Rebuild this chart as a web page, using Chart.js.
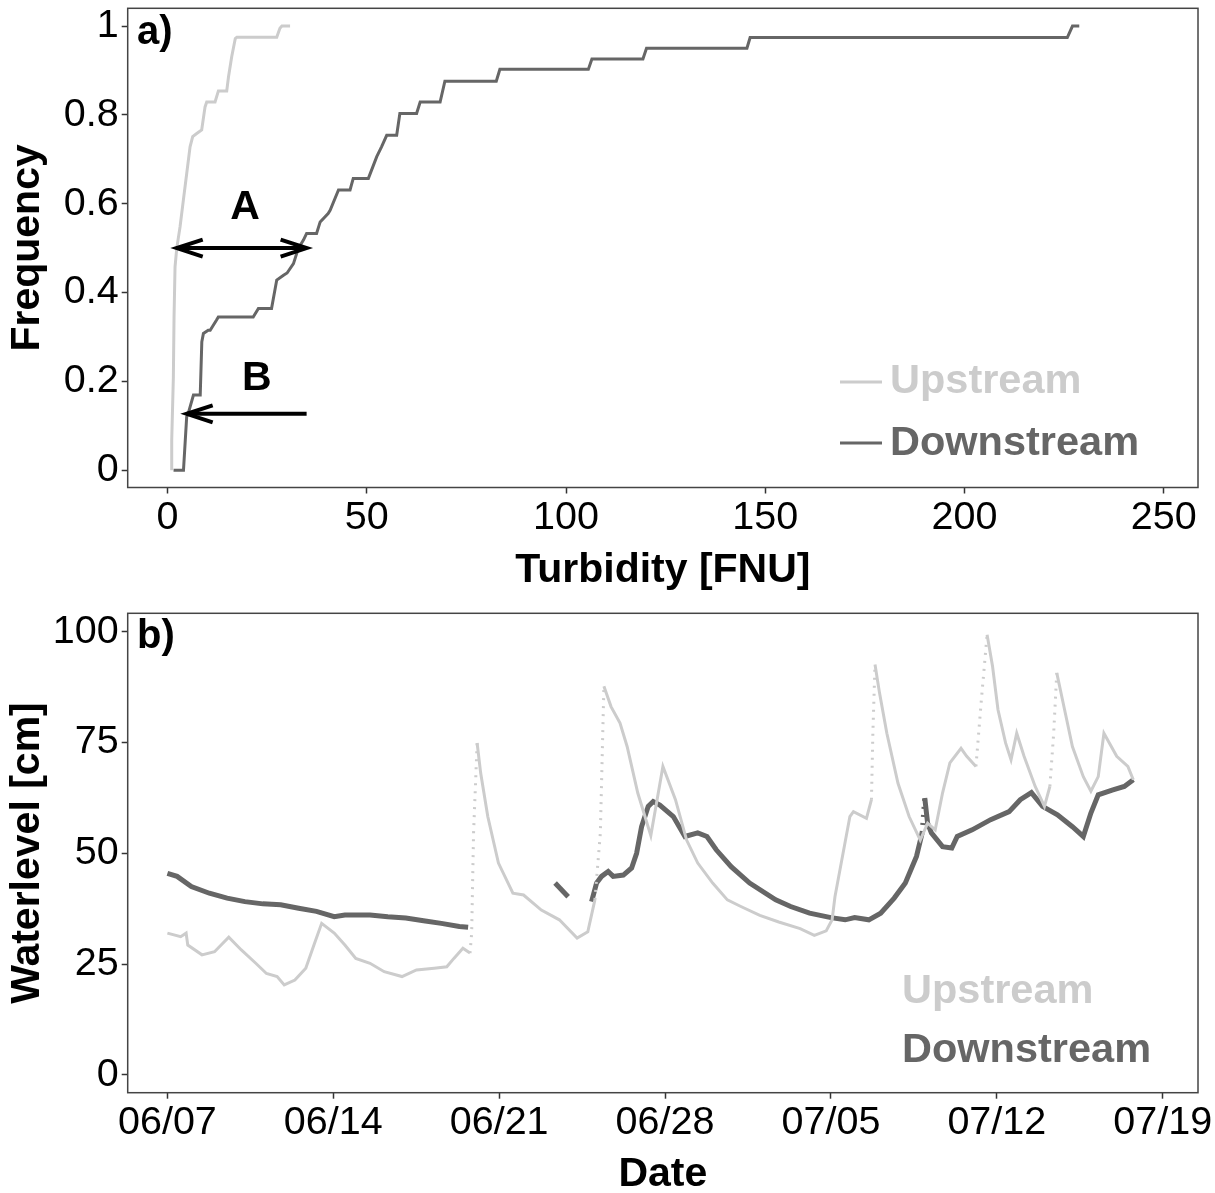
<!DOCTYPE html>
<html>
<head>
<meta charset="utf-8">
<script src="https://cdn.jsdelivr.net/npm/chart.js@4.4.0/dist/chart.umd.min.js"></script>
<style>
  html, body { margin: 0; padding: 0; background: #fff; }
  #wrap { position: relative; width: 1215px; height: 1193px; }
  #top { position: absolute; left: 0; top: 0; }
  #bottom { position: absolute; left: 0; top: 600px; }
</style>
</head>
<body>
<div id="wrap">
  <canvas id="top" width="1215" height="600"></canvas>
  <canvas id="bottom" width="1215" height="593"></canvas>
</div>
<script>
// panel a) cumulative frequency of turbidity (corner points of the step curves)
const turbUp = [1.05, 1.05, 1.46, 1.63, 1.88, 2.30, 3.14, 3.97, 4.81, 5.65, 6.31, 7.32, 8.57, 9.41, 9.83,
  11.92, 12.76, 14.85, 15.3, 16.1, 17.0, 17.4, 27.4, 28.2, 28.7, 30.75];
const freqUp = [0, 0.068, 0.21, 0.345, 0.458, 0.499, 0.548, 0.608, 0.668, 0.728, 0.751, 0.758, 0.766, 0.818, 0.829,
  0.829, 0.854, 0.854, 0.886, 0.931, 0.972, 0.975, 0.975, 0.995, 1.0, 1.0];

const turbDown = [1.5, 4.0, 4.8, 5.2, 6.5, 8.2, 8.6, 9.0, 10.2, 10.7, 12.3, 12.75, 21.5, 22.8, 26.1,
  27.4, 29.1, 30.0, 31.6, 32.8, 34.1, 34.9, 37.4, 38.3, 40.3, 40.8, 42.9, 45.8, 46.6, 50.4,
  52.5, 53.7, 55.0, 57.5, 58.3, 62.5, 63.4, 68.4, 69.6, 82.5, 83.4, 105.6, 106.5, 119.3, 120.2,
  145.4, 146.2, 225.8, 227.1, 228.8];
const freqDown = [0, 0, 0.12, 0.128, 0.169, 0.169, 0.289, 0.308, 0.315, 0.315, 0.338, 0.345, 0.345, 0.364, 0.364,
  0.428, 0.439, 0.444, 0.465, 0.499, 0.518, 0.533, 0.533, 0.559, 0.578, 0.585, 0.631, 0.631, 0.657, 0.657,
  0.706, 0.728, 0.754, 0.754, 0.803, 0.803, 0.829, 0.829, 0.876, 0.876, 0.9025, 0.9025, 0.926, 0.926, 0.95,
  0.95, 0.974, 0.974, 1.0, 1.0];

const turbTicks = [0, 50, 100, 150, 200, 250];
const freqTicks = [0, 0.2, 0.4, 0.6, 0.8, 1];

// panel b) water level, x = days since 06/07
const dayUp = [0, 0.56, 0.79, 0.86, 1.46, 1.99, 2.59, 3.12, 3.73, 4.18, 4.63, 4.93, 5.38, 5.84, 6.21,
  6.51, 7.04, 7.49, 7.95, 8.55, 9.15, 9.90, 10.51, 11.26, 11.79, 12.09, 12.47, 12.77, 12.84, 12.92,
  13.07, 13.22, 13.52, 13.97, 14.58, 15.03, 15.78, 16.54, 17.29, 17.74, 18.04, 18.27, 18.42, 18.72, 19.10,
  19.40, 19.85, 20.40, 20.91, 21.44, 21.91, 22.38, 23.01, 23.63, 24.2, 25.0, 25.8, 26.7, 27.3, 27.8,
  28.05, 28.17, 28.80, 28.95, 29.50, 29.71, 29.77, 29.86, 30.05, 30.36, 30.83, 31.30, 31.77, 32.08, 32.40,
  32.71, 33.02, 33.49, 33.73, 34.12, 34.35, 34.59, 34.82, 35.05, 35.37, 35.60, 35.84, 36.15, 36.62, 37.01,
  37.24, 37.40, 37.53, 37.80, 38.19, 38.65, 38.97, 39.28, 39.52, 40.06, 40.53, 40.76];
const levelUp = [32.0, 31.2, 32.0, 29.3, 27.1, 27.8, 31.1, 28.2, 25.2, 22.9, 22.2, 20.3, 21.4, 24.1, 29.7,
  34.2, 32.0, 29.3, 26.3, 25.2, 23.3, 22.2, 23.7, 24.1, 24.4, 26.3, 28.6, 27.5, 32.0, 54.6,
  74.9, 68.1, 58.3, 47.8, 41.0, 40.6, 37.2, 35.0, 30.9, 32.3, 39.5, 54.6, 87.7, 83.1, 79.4,
  74.1, 63.6, 54.0, 69.6, 62.1, 53.0, 47.8, 43.3, 39.5, 38.0, 36.0, 34.5, 33.0, 31.5, 32.5,
  35.0, 40.2, 58.3, 59.4, 57.9, 62.1, 77.1, 92.6, 86.2, 77.1, 65.8, 58.3, 53.0, 56.8, 55.3,
  63.6, 70.4, 73.7, 71.9, 69.6, 84.7, 99.3, 92.2, 82.4, 74.9, 71.1, 77.1, 71.9, 65.1, 60.6,
  65.1, 77.1, 90.7, 83.9, 74.1, 67.3, 64.0, 67.3, 77.1, 71.9, 69.6, 66.6];

const dayDown = [0, 0.41, 1.01, 1.77, 2.52, 3.27, 4.03, 4.78, 5.54, 6.29, 7.04, 7.49, 8.55, 9.30, 10.06,
  10.81, 11.56, 12.32, 12.69, 14.5, 16.36, 16.91, 17.4, 17.90, 18.11, 18.32, 18.60, 18.81, 19.24, 19.59,
  19.80, 20.01, 20.29, 20.50, 20.78, 21.35, 21.84, 22.38, 22.77, 23.16, 23.79, 24.57, 25.67, 26.3, 27.1,
  28.0, 28.6, 29.0, 29.6, 30.1, 30.67, 31.14, 31.61, 31.85, 31.96, 32.08, 32.24, 32.71, 33.10, 33.33,
  33.96, 34.74, 35.52, 35.99, 36.46, 36.93, 37.56, 38.19, 38.65, 38.97, 39.28, 39.90, 40.38, 40.76];
const levelDown = [45.5, 44.8, 42.5, 41.0, 39.9, 39.1, 38.6, 38.4, 37.6, 36.9, 35.7, 36.1, 36.1, 35.7, 35.4,
  34.8, 34.2, 33.5, 33.3, null, 43.3, 40.2, null, 39.1, 43.3, 44.8, 45.9, 44.8, 45.1, 46.7,
  50.0, 56.0, 60.6, 61.7, 60.9, 58.3, 53.8, 54.6, 53.8, 50.8, 47.0, 43.3, 39.5, 38.0, 36.5,
  35.5, 35.0, 35.5, 35.0, 36.5, 39.9, 43.3, 49.3, 54.6, 62.5, 56.8, 54.6, 51.5, 51.2, 53.8,
  55.3, 57.6, 59.4, 62.1, 63.7, 60.6, 58.7, 56.0, 53.8, 59.1, 63.2, 64.3, 65.1, 66.6];

const levelTicks = [0, 25, 50, 75, 100];
const dateTicks = [0, 7, 14, 21, 28, 35, 42];
const dateLabels = ['06/07', '06/14', '06/21', '06/28', '07/05', '07/12', '07/19'];

const seriesNames = ['Upstream', 'Downstream'];
const seriesColors = ['#cccccc', '#666666'];

const fontFamily = '"Liberation Sans", Arial, sans-serif';

function toPoints(xs, ys) {
  return xs.map((x, i) => ({ x: x, y: ys[i] }));
}

// a panel frame like ggplot's theme_bw border
const panelBox = {
  id: 'panelBox',
  afterDraw(chart) {
    const { ctx, chartArea: a } = chart;
    ctx.save();
    ctx.strokeStyle = '#444';
    ctx.lineWidth = 1.5;
    ctx.strokeRect(a.left, a.top, a.right - a.left, a.bottom - a.top);
    ctx.restore();
  }
};

function boldText(ctx, text, x, y, size, color, align) {
  ctx.font = 'bold ' + size + 'px ' + fontFamily;
  ctx.fillStyle = color;
  ctx.textAlign = align || 'left';
  ctx.textBaseline = 'alphabetic';
  ctx.fillText(text, x, y);
}

function arrowHead(ctx, tipX, tipY, dir) {
  ctx.beginPath();
  ctx.moveTo(tipX - dir * 26, tipY - 8.5);
  ctx.lineTo(tipX, tipY);
  ctx.lineTo(tipX - dir * 26, tipY + 8.5);
  ctx.stroke();
}

// arrows in data units of panel a)
const arrowA = { x0: 2.3, x1: 34.9, y: 0.5 };
const arrowB = { x0: 34.9, x1: 4.8, y: 0.127 };

const topNotes = {
  id: 'topNotes',
  afterDraw(chart) {
    const { ctx, scales: { x, y } } = chart;
    ctx.save();
    boldText(ctx, 'a)', 137, 44, 40, '#000');

    ctx.strokeStyle = '#000';
    ctx.lineWidth = 4;
    ctx.lineCap = 'butt';
    const ay = y.getPixelForValue(arrowA.y);
    const ax0 = x.getPixelForValue(arrowA.x0), ax1 = x.getPixelForValue(arrowA.x1);
    ctx.beginPath(); ctx.moveTo(ax0, ay); ctx.lineTo(ax1, ay); ctx.stroke();
    arrowHead(ctx, ax0, ay, -1);
    arrowHead(ctx, ax1, ay, 1);
    const by = y.getPixelForValue(arrowB.y);
    const bx0 = x.getPixelForValue(arrowB.x0), bx1 = x.getPixelForValue(arrowB.x1);
    ctx.beginPath(); ctx.moveTo(bx0, by); ctx.lineTo(bx1, by); ctx.stroke();
    arrowHead(ctx, bx1, by, -1);

    boldText(ctx, 'A', x.getPixelForValue(19.45), y.getPixelForValue(0.565), 41, '#000', 'center');
    boldText(ctx, 'B', x.getPixelForValue(22.4), y.getPixelForValue(0.18), 41, '#000', 'center');

    // legend
    ctx.lineWidth = 3;
    [382, 443].forEach((ly, i) => {
      ctx.strokeStyle = seriesColors[i];
      ctx.beginPath(); ctx.moveTo(840, ly); ctx.lineTo(882, ly); ctx.stroke();
    });
    boldText(ctx, seriesNames[0], 890, 393, 41.5, seriesColors[0]);
    boldText(ctx, seriesNames[1], 890, 455, 41.5, seriesColors[1]);
    ctx.restore();
  }
};

const bottomNotes = {
  id: 'bottomNotes',
  afterDraw(chart) {
    const { ctx } = chart;
    ctx.save();
    boldText(ctx, 'b)', 137, 48, 40, '#000');
    boldText(ctx, seriesNames[0], 902, 403, 41.5, seriesColors[0]);
    boldText(ctx, seriesNames[1], 902, 462, 41.5, seriesColors[1]);
    ctx.restore();
  }
};

function xAxis(min, max, ticks, label, height, title, titlePad) {
  return {
    type: 'linear', position: 'bottom', min: min, max: max,
    afterBuildTicks: s => { s.ticks = ticks.map(v => ({ value: v })); },
    afterFit: s => { s.height = height; s.paddingLeft = 0; s.paddingRight = 0; },
    grid: { drawOnChartArea: false, drawTicks: true, tickLength: 6, tickColor: '#333', tickWidth: 1.5 },
    border: { display: false },
    ticks: {
      font: { family: fontFamily, size: 39.5 }, color: '#000', padding: 1,
      maxRotation: 0, autoSkip: false, callback: label
    },
    title: {
      display: true, text: title, color: '#000',
      font: { family: fontFamily, size: 41, weight: 'bold', lineHeight: 1 },
      padding: { top: 0, bottom: titlePad }
    }
  };
}

function yAxis(min, max, ticks, title) {
  return {
    type: 'linear', position: 'left', min: min, max: max,
    afterBuildTicks: s => { s.ticks = ticks.map(v => ({ value: v })); },
    afterFit: s => { s.width = 127.7; s.paddingTop = 0; s.paddingBottom = 0; },
    grid: { drawOnChartArea: false, drawTicks: true, tickLength: 6, tickColor: '#333', tickWidth: 1.5 },
    border: { display: false },
    ticks: {
      font: { family: fontFamily, size: 39.5 }, color: '#000', padding: 3,
      autoSkip: false, callback: v => String(v)
    },
    title: {
      display: true, text: title, color: '#000',
      font: { family: fontFamily, size: 41, weight: 'bold', lineHeight: 1 },
      padding: { top: 7.5, bottom: 0 }
    }
  };
}

new Chart(document.getElementById('top'), {
  type: 'scatter',
  data: {
    datasets: [
      { label: seriesNames[0], data: toPoints(turbUp, freqUp), showLine: true,
        borderColor: seriesColors[0], borderWidth: 3, pointRadius: 0, tension: 0 },
      { label: seriesNames[1], data: toPoints(turbDown, freqDown), showLine: true,
        borderColor: seriesColors[1], borderWidth: 3, pointRadius: 0, tension: 0 }
    ]
  },
  options: {
    responsive: false,
    animation: false,
    layout: { padding: { top: 8.3, right: 17, bottom: 0, left: 0 } },
    plugins: { legend: { display: false }, tooltip: { enabled: false } },
    scales: {
      x: xAxis(-10, 258.6, turbTicks, v => String(v), 112.5, 'Turbidity [FNU]', 9),
      y: yAxis(-0.039, 1.04, freqTicks, 'Frequency')
    }
  },
  plugins: [panelBox, topNotes]
});

// steep stretches of the logger series look dotted in the original
function steepDash(ctx) {
  const dy = ctx.p1.parsed.y - ctx.p0.parsed.y;
  const dx = ctx.p1.parsed.x - ctx.p0.parsed.x;
  return Math.abs(dy / dx) > 60 ? [2, 6] : undefined;
}

new Chart(document.getElementById('bottom'), {
  type: 'scatter',
  data: {
    datasets: [
      { label: seriesNames[0], data: toPoints(dayUp, levelUp), showLine: true, spanGaps: false,
        borderColor: seriesColors[0], borderWidth: 3, pointRadius: 0, tension: 0,
        segment: { borderDash: steepDash } },
      { label: seriesNames[1], data: toPoints(dayDown, levelDown), showLine: true, spanGaps: false,
        borderColor: seriesColors[1], borderWidth: 5, pointRadius: 0, tension: 0,
        segment: { borderDash: steepDash } }
    ]
  },
  options: {
    responsive: false,
    animation: false,
    layout: { padding: { top: 13.3, right: 17, bottom: 0, left: 0 } },
    plugins: { legend: { display: false }, tooltip: { enabled: false } },
    scales: {
      x: xAxis(-1.675, 43.49, dateTicks, v => dateLabels[dateTicks.indexOf(v)], 100.3, 'Date', -2),
      y: yAxis(-4, 104.15, levelTicks, 'Waterlevel [cm]')
    }
  },
  plugins: [panelBox, bottomNotes]
});
</script>
</body>
</html>
